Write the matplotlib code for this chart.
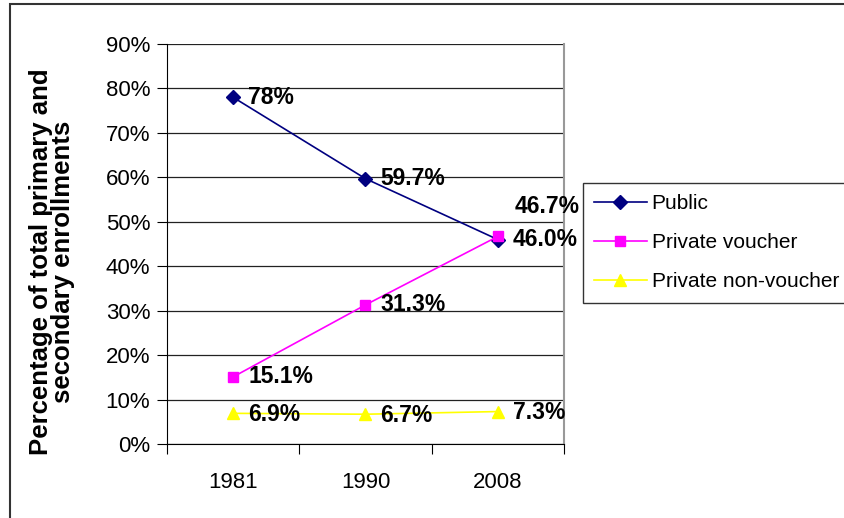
"""
Chile school enrollment shares by sector, 1981-2008.
"""

import matplotlib.pyplot as plt
from matplotlib.patches import Rectangle

years = ["1981", "1990", "2008"]
public = [78.0, 59.7, 46.0]
private_voucher = [15.1, 31.3, 46.7]
private_non_voucher = [6.9, 6.7, 7.3]

public_labels = ["78%", "59.7%", "46.0%"]
voucher_labels = ["15.1%", "31.3%", "46.7%"]
non_voucher_labels = ["6.9%", "6.7%", "7.3%"]

plt.rcParams["font.family"] = ["Liberation Sans", "DejaVu Sans"]

fig = plt.figure(figsize=(8.45, 5.18), dpi=100)
ax = fig.add_axes([167 / 845, 1 - 444 / 518, (564 - 167) / 845, 400 / 518])

x = list(range(len(years)))

ax.plot(x, public, color="#000080", marker="D", markersize=7, lw=1.2, label="Public")
ax.plot(x, private_voucher, color="#FF00FF", marker="s", markersize=7.5, lw=1.2,
        label="Private voucher")
ax.plot(x, private_non_voucher, color="#FFFF00", marker="^", markersize=9, lw=1.2,
        label="Private non-voucher")

label_style = dict(textcoords="offset pixels", fontsize=16.5, fontweight="bold",
                   va="center", ha="left")
for i in x:
    ax.annotate(public_labels[i], (i, public[i]), xytext=(15, 0), **label_style)
    ax.annotate(non_voucher_labels[i], (i, private_non_voucher[i]), xytext=(15, -1),
                **label_style)
for i in x[:2]:
    ax.annotate(voucher_labels[i], (i, private_voucher[i]), xytext=(15, 0), **label_style)
ax.annotate(voucher_labels[2], (2, private_voucher[2]), xytext=(17, 30), **label_style)

ax.set_xlim(-0.5, 2.5)
ax.set_ylim(0, 90)
ax.set_xticks([-0.5, 0.5, 1.5, 2.5])
ax.set_xticklabels([])
ax.set_xticks(x, minor=True)
ax.set_xticklabels(years, minor=True, fontsize=16)
ax.tick_params(axis="x", which="major", length=7, direction="out", color="black")
ax.tick_params(axis="x", which="minor", length=0, pad=20)

ax.set_yticks(range(0, 91, 10))
ax.set_yticklabels([f"{v}%" for v in range(0, 91, 10)], fontsize=16)
ax.tick_params(axis="y", length=7, direction="out", pad=5)

ax.grid(axis="y", color="#222222", lw=0.9)
ax.set_axisbelow(True)
ax.spines["top"].set_visible(False)
ax.spines["right"].set_color("#999999")
ax.spines["right"].set_linewidth(1.5)
ax.spines["left"].set_color("black")
ax.spines["bottom"].set_color("black")

fig.text(52 / 845, 1 - 262 / 518, "Percentage of total primary and\nsecondary enrollments",
         rotation=90, ha="center", va="center", fontsize=18.5, fontweight="bold",
         linespacing=0.85)

leg = ax.legend(loc="upper left", bbox_to_anchor=(583 / 845, 1 - 183 / 518),
                bbox_transform=fig.transFigure, fontsize=15, frameon=True,
                fancybox=False, borderpad=0.55, handlelength=2.5,
                labelspacing=0.95, handletextpad=0.25, borderaxespad=0)
leg.get_frame().set_edgecolor("black")
leg.get_frame().set_linewidth(1.0)

# outer chart border
fig.patches.append(Rectangle((10 / 845, -0.01), 1.0, 1 - 4 / 518 + 0.01,
                             transform=fig.transFigure, fill=False,
                             edgecolor="#333333", lw=1.5))

fig.savefig("out.png", dpi=100)
